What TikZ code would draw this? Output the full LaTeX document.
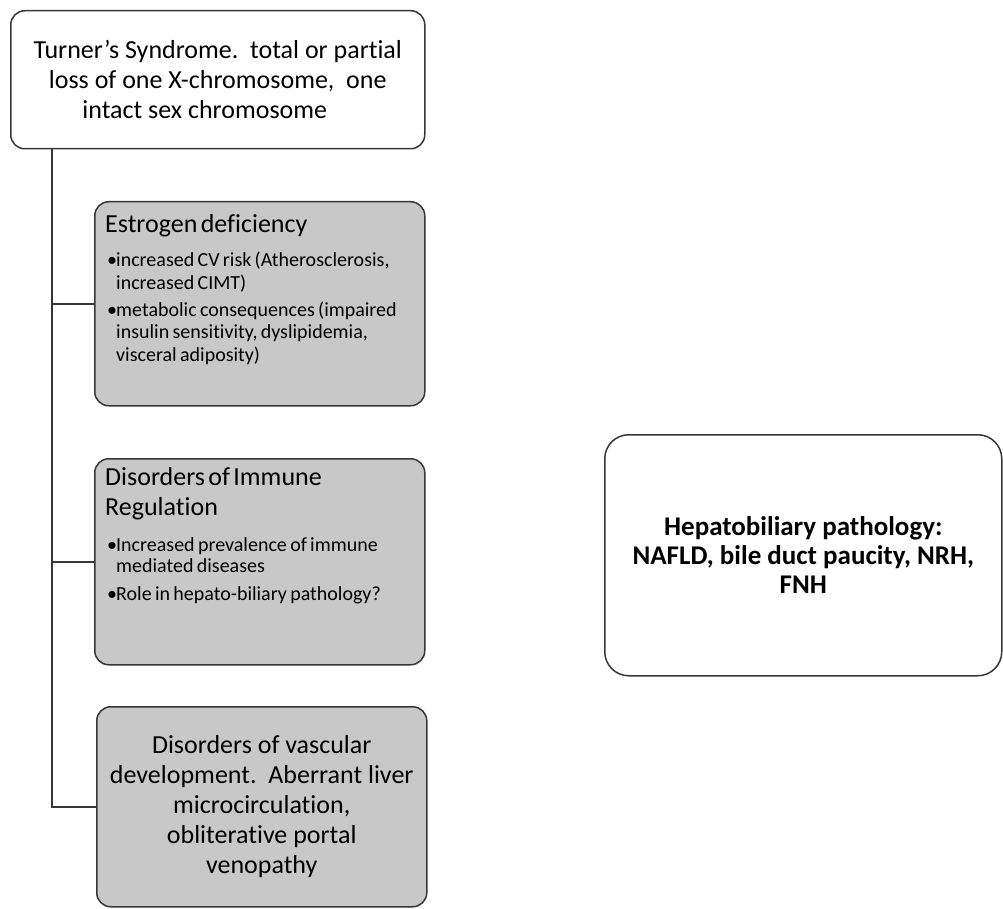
\documentclass[tikz,border=0pt]{standalone}
\usepackage{fontspec}
\setmainfont{Carlito}[Ligatures=NoCommon]
\definecolor{boxgray}{RGB}{200,200,200}
\definecolor{edgegray}{RGB}{55,55,55}
\newcommand{\bulitem}[1]{\noindent\hspace*{2pt}\makebox[9pt][l]{\textbullet}\parbox[t]{300pt}{\raggedright\strut #1\strut}\par}

\begin{document}
\begin{tikzpicture}[x=1pt,y=-1pt,
  box/.style={draw=edgegray, line width=1.5pt, rounded corners=14pt, anchor=north west},
  graybox/.style={box, fill=boxgray},
  link/.style={draw=edgegray, line width=1.5pt},
  boxtext/.style={anchor=north west, text width=320, align=left, inner sep=0}]
\useasboundingbox (0,0) rectangle (1003,909);
\node[box, minimum width=414, minimum height=138, align=center, font=\fontsize{26}{30}\selectfont] (turner) at (10,10)
  {Turner's Syndrome.\ \ total or partial\\ loss of one X-chromosome,\ \ one\\ intact sex chromosome\hspace*{26pt}};
\node[graybox, minimum width=330, minimum height=204] (estr) at (94,201) {};
\node[graybox, minimum width=330, minimum height=206] (immune) at (94,458) {};
\node[graybox, minimum width=330, minimum height=200, align=center, font=\fontsize{26}{30}\selectfont] (vasc) at (96,706)
  {Disorders of vascular\\ development.\ \ Aberrant liver\\ microcirculation,\\ obliterative portal\\ venopathy};
\node[box, rounded corners=24pt, minimum width=397, minimum height=241, align=center, font=\fontsize{27}{29}\bfseries] (hepato) at (604,434)
  {Hepatobiliary pathology:\\ NAFLD, bile duct paucity, NRH,\\ FNH};
\node[boxtext] (estrtxt) at ([shift={(11,13)}]estr.north west)
  {{\fontsize{26}{30}\selectfont Estrogen deficiency\par}
   \vspace{12pt}
   {\fontsize{20}{22.5}\selectfont
   \bulitem{increased CV risk (Atherosclerosis,\\ increased CIMT)}
   \vspace{3.5pt}
   \bulitem{metabolic consequences (impaired\\ insulin sensitivity, dyslipidemia,\\ visceral adiposity)}}};
\node[boxtext] (immunetxt) at ([shift={(11,9)}]immune.north west)
  {{\fontsize{26}{30}\selectfont Disorders of Immune\\ Regulation\par}
   \vspace{14.5pt}
   {\fontsize{20}{21.5}\selectfont
   \bulitem{Increased prevalence of immune\\ mediated diseases}
   \vspace{5pt}
   \bulitem{Role in hepato-biliary pathology?}}};
\foreach \b in {estr,immune,vasc}
  \draw[link] ([xshift=42pt]turner.south west) |- (\b.west);
\end{tikzpicture}
\end{document}
